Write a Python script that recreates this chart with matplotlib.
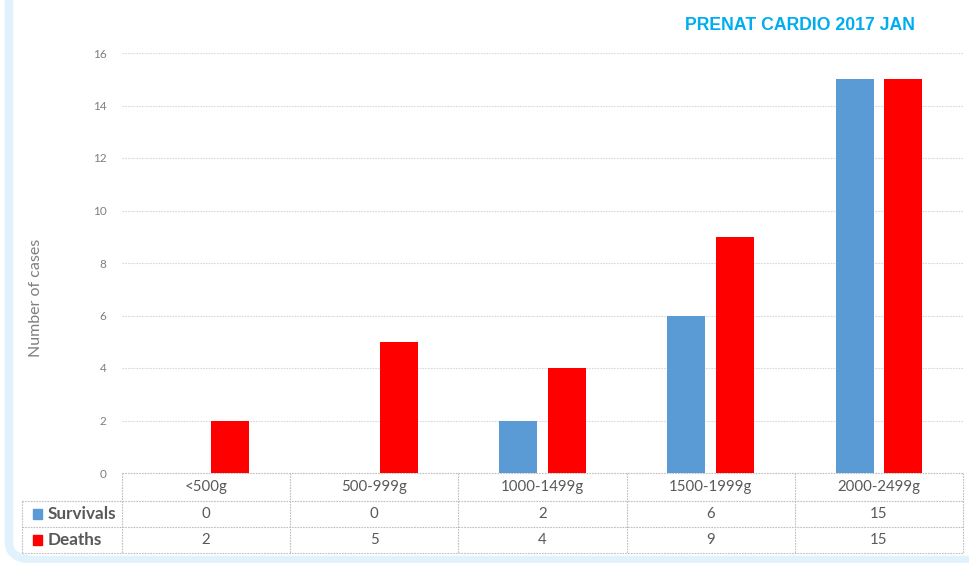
import matplotlib.pyplot as plt
import numpy as np
from matplotlib.patches import FancyBboxPatch, Rectangle

# Birth weight groups and outcome counts
weight_groups = ["<500g", "500-999g", "1000-1499g", "1500-1999g", "2000-2499g"]
survivals = [0, 0, 2, 6, 15]
deaths = [2, 5, 4, 9, 15]
series_names = ["Survivals", "Deaths"]
y_ticks = [0, 2, 4, 6, 8, 10, 12, 14, 16]

blue = "#5B9BD5"
red = "#FF0000"
text_gray = "#595959"
grid_gray = "#BFBFBF"

plt.rcParams["font.family"] = ["Lato", "DejaVu Sans"]

fig = plt.figure(figsize=(9.7, 5.63), dpi=100)
ax = fig.add_axes([122 / 970, 1 - 473 / 563, 841 / 970, 420 / 563])

x = np.arange(len(weight_groups))
bar_w = 0.226
offset = 0.145
ax.bar(x - offset, survivals, width=bar_w, color=blue, zorder=3)
ax.bar(x + offset, deaths, width=bar_w, color=red, zorder=3)

ax.set_xlim(-0.5, len(weight_groups) - 0.5)
ax.set_ylim(0, 16)
ax.set_yticks(y_ticks)
ax.set_yticklabels([str(t) for t in y_ticks], fontsize=8.5, color="#7F7F7F")
ax.tick_params(axis="y", length=0, pad=11)
ax.set_xticks([])
for s in ax.spines.values():
    s.set_visible(False)
ax.yaxis.grid(True, color="#D9D9D9", linestyle=(0, (1.5, 1)), linewidth=0.8, zorder=0)

fig.text(36 / 970, 1 - 298 / 563, "Number of cases", rotation=90,
         ha="center", va="center", fontsize=11.5, color="#7F7F7F")

# Data table under the plot
row_edges = [0, -28 / 420, -54 / 420, -80 / 420]
px = len(weight_groups) / 841  # table pixels -> data units
label_left = -0.5 - 100 * px
trans = ax.get_xaxis_transform()
line_kw = dict(color=grid_gray, linestyle=(0, (1.5, 1)), linewidth=0.8,
               transform=trans, clip_on=False)

# horizontal lines
ax.plot([-0.5, 4.5], [row_edges[0]] * 2, **line_kw)
for yy in row_edges[1:]:
    ax.plot([label_left, 4.5], [yy, yy], **line_kw)
# vertical lines
for xx in np.arange(-0.5, 5.0, 1.0):
    ax.plot([xx, xx], [row_edges[0], row_edges[3]], **line_kw)
ax.plot([label_left, label_left], [row_edges[1], row_edges[3]], **line_kw)

for i, g in enumerate(weight_groups):
    ax.text(i, (row_edges[0] + row_edges[1]) / 2, g, transform=trans,
            ha="center", va="center", fontsize=10.8, color=text_gray)
    ax.text(i, (row_edges[1] + row_edges[2]) / 2, str(survivals[i]), transform=trans,
            ha="center", va="center", fontsize=10.8, color=text_gray)
    ax.text(i, (row_edges[2] + row_edges[3]) / 2, str(deaths[i]), transform=trans,
            ha="center", va="center", fontsize=10.8, color=text_gray)

for name, color, r in zip(series_names, [blue, red], [1, 2]):
    yc = (row_edges[r] + row_edges[r + 1]) / 2
    ax.add_patch(Rectangle((label_left + 11 * px, yc - 0.011), 9 * px, 0.022,
                           transform=trans, color=color, clip_on=False))
    ax.text(label_left + 26 * px, yc, name, transform=trans, ha="left", va="center",
            fontsize=12.3, fontweight="bold", color=text_gray)

fig.text(800 / 970, 1 - 25 / 563, "PRENAT CARDIO 2017 JAN", ha="center", va="center",
         fontsize=12.7, fontweight="bold", color="#00AEEF",
         family=["Liberation Sans", "DejaVu Sans"])

# light blue rounded frame along the left and bottom
frame = FancyBboxPatch((9 / 970, 3 / 563), 1.2, 1.2,
                       boxstyle="round,pad=0,rounding_size=0.03",
                       transform=fig.transFigure, facecolor="none",
                       edgecolor="#E1F2FD", linewidth=6, clip_on=False)
fig.patches.append(frame)

fig.savefig("out.png", dpi=100)
